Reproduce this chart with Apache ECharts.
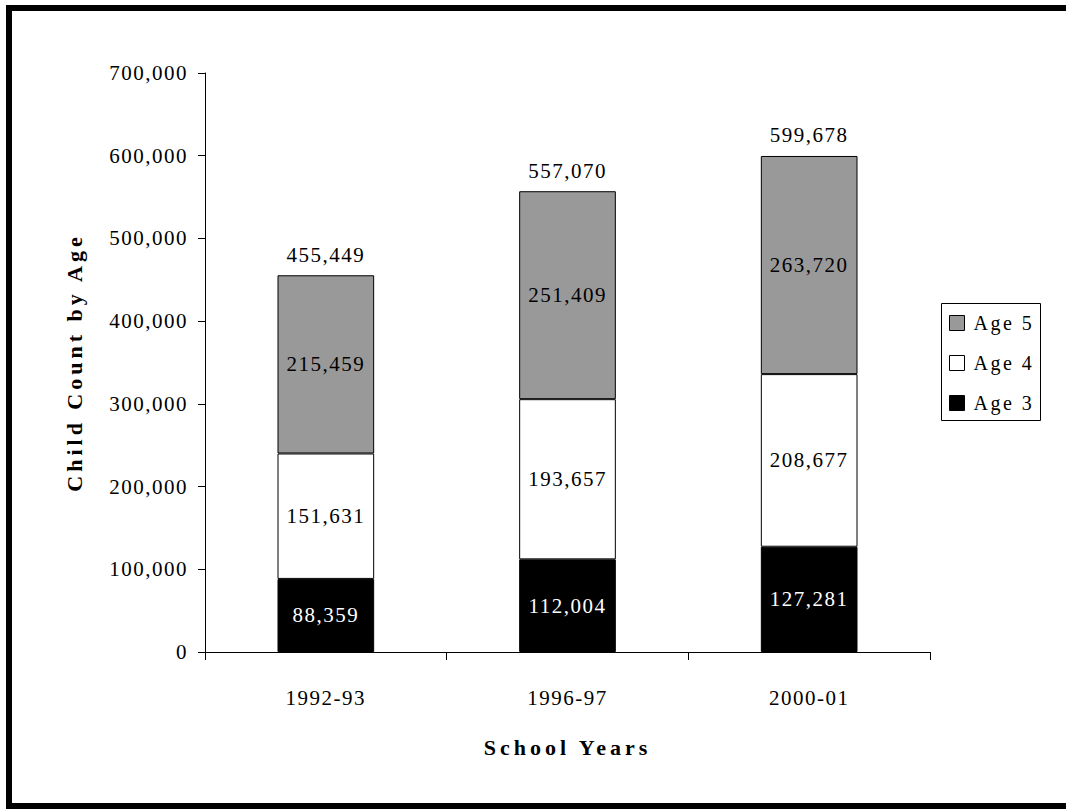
<!DOCTYPE html>
<html>
<head>
<meta charset="utf-8">
<script src="https://cdn.jsdelivr.net/npm/echarts@6/dist/echarts.min.js"></script>
<style>html,body{margin:0;padding:0;background:#fff;}#c{width:1066px;height:809px;}</style>
</head>
<body>
<div id="c"></div>
<script>
const categories = ['1992-93', '1996-97', '2000-01'];
const age3 = [88359, 112004, 127281];
const age4 = [151631, 193657, 208677];
const age5 = [215459, 251409, 263720];
const totals = [455449, 557070, 599678];
const yTicks = [0, 100000, 200000, 300000, 400000, 500000, 600000, 700000];
const xTitle = 'School Years';
const yTitle = 'Child Count by Age';

const FONT = "'Liberation Serif', 'Times New Roman', serif";
const fmt = v => Number(v).toLocaleString('en-US');

const chart = echarts.init(document.getElementById('c'), null, {renderer: 'svg'});
const valLabel = {show: true, position: 'inside', fontFamily: FONT, fontSize: 21, color: '#000', formatter: p => fmt(p.value)};
function barSeries(name, data, color, labelColor) {
  return {
    type: 'bar', stack: 'total', barWidth: '40%', name: name, data: data,
    itemStyle: {color: color, borderColor: '#000', borderWidth: 1},
    label: Object.assign({}, valLabel, {color: labelColor})
  };
}
chart.setOption({
  animation: false,
  backgroundColor: '#fff',
  textStyle: {fontFamily: FONT},
  graphic: [{
    type: 'rect', shape: {x: 9, y: 8, width: 1080, height: 798},
    style: {fill: 'none', stroke: '#000', lineWidth: 6}, silent: true
  }, {
    type: 'rect', shape: {x: 941.5, y: 303.5, width: 99, height: 117},
    style: {fill: 'none', stroke: '#000', lineWidth: 1}, silent: true
  }],
  grid: {left: 205, right: 136, top: 73, bottom: 157},
  legend: {
    orient: 'vertical', left: 941, top: 303,
    data: ['Age 5', 'Age 4', 'Age 3'],
    borderWidth: 0, padding: [10, 12, 10, 8],
    itemWidth: 15, itemHeight: 15, itemGap: 20,
    icon: 'rect',
    itemStyle: {borderColor: '#000', borderWidth: 1},
    textStyle: {fontFamily: FONT, fontSize: 20, color: '#000', padding: [0, 0, 0, 4]}
  },
  xAxis: {
    type: 'category', data: categories,
    name: xTitle, nameLocation: 'middle', nameGap: 84,
    nameTextStyle: {fontFamily: FONT, fontSize: 22, fontWeight: 'bold', color: '#000'},
    axisLine: {lineStyle: {color: '#000', width: 1}},
    axisTick: {show: true, length: 8, lineStyle: {color: '#000'}},
    axisLabel: {fontFamily: FONT, fontSize: 21, color: '#000', margin: 35}
  },
  yAxis: {
    type: 'value', min: 0, max: 700000, interval: 100000,
    name: yTitle, nameLocation: 'middle', nameGap: 120, nameRotate: 90,
    nameTextStyle: {fontFamily: FONT, fontSize: 22, fontWeight: 'bold', color: '#000'},
    splitLine: {show: false},
    axisLine: {show: true, lineStyle: {color: '#000', width: 1}},
    axisTick: {show: true, length: 7, lineStyle: {color: '#000'}},
    axisLabel: {fontFamily: FONT, fontSize: 21, color: '#000', margin: 17,
      formatter: v => yTicks.includes(v) ? fmt(v) : ''}
  },
  series: [
    barSeries('Age 3', age3, '#000', '#fff'),
    barSeries('Age 4', age4, '#fff', '#000'),
    barSeries('Age 5', age5, '#999999', '#000'),
    {
      name: 'Total', type: 'scatter', data: totals, symbolSize: 0.001, silent: true,
      itemStyle: {color: 'transparent', opacity: 1},
      label: {show: true, position: 'top', distance: 10, fontFamily: FONT, fontSize: 21, color: '#000', formatter: p => fmt(p.value)}
    }
  ]
});

function spaceText() {
  document.querySelectorAll('#c svg text').forEach(t => {
    const s = t.textContent;
    let ls = 1.5;
    if (s === xTitle || s === yTitle) ls = 4;
    else if (/^Age \d$/.test(s)) ls = 2.5;
    t.setAttribute('letter-spacing', ls);
    t.style.letterSpacing = ls + 'px';
    t.style.fontFamily = FONT;
  });
}
spaceText();
chart.on('finished', spaceText);
</script>
</body>
</html>
